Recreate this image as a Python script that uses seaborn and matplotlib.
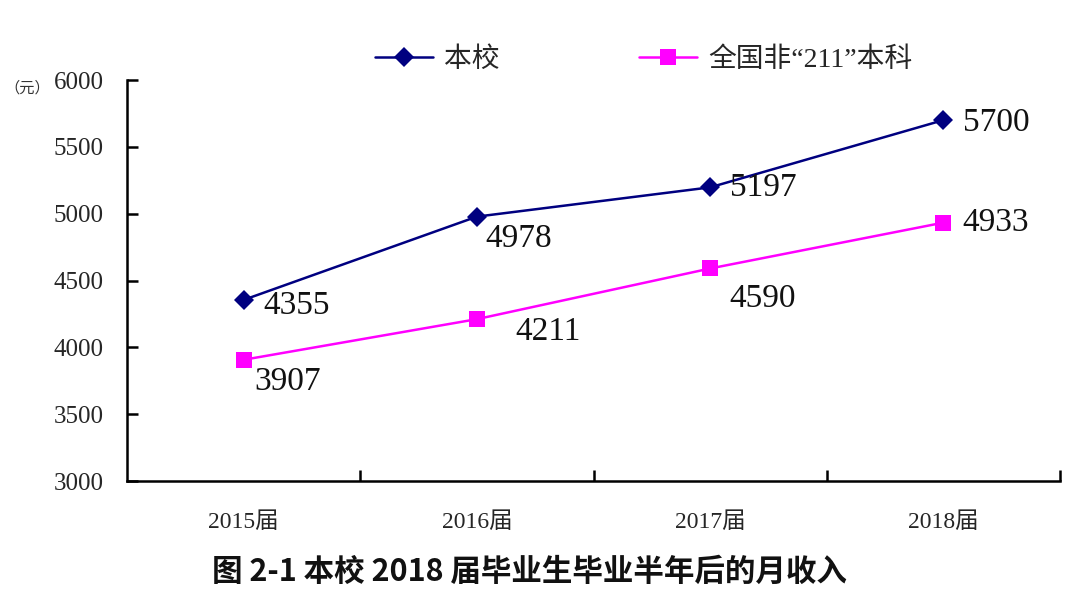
import pandas as pd
import matplotlib.pyplot as plt
import seaborn as sns

years = ['2015届', '2016届', '2017届', '2018届']
school = [4355, 4978, 5197, 5700]
national = [3907, 4211, 4590, 4933]
series_names = ['本校', '全国非“211”本科']
yticks = [3000, 3500, 4000, 4500, 5000, 5500, 6000]

sns.set_style('white')
plt.rcParams['font.family'] = ['Liberation Serif', 'Noto Sans CJK SC', 'DejaVu Sans']

df = pd.DataFrame({
    'x': list(range(len(years))) * 2,
    'value': school + national,
    'series': [series_names[0]] * len(years) + [series_names[1]] * len(years),
})

fig = plt.figure(figsize=(10.8, 6.03), dpi=100)
ax = fig.add_axes([0.1176, 0.2023, 0.8639, 0.665])

sns.lineplot(data=df, x='x', y='value', hue='series', style='series',
             palette=['#000080', '#FF00FF'], markers=['D', 's'], dashes=False,
             markersize=10, linewidth=1.8, markeredgewidth=0, ax=ax, legend=False)
# square marker a bit bigger
ax.lines[1].set_markersize(12)

ax.set_xlim(-0.5, 3.5)
ax.set_ylim(3000, 6000)
ax.set_yticks(yticks)
ax.set_yticklabels([str(v) for v in yticks], fontsize=18)
ax.set_xticks([0.5, 1.5, 2.5, 3.5])
ax.set_xticklabels([])
ax.set_xticks(range(len(years)), minor=True)
ax.set_xticklabels(years, minor=True, fontsize=17)
ax.tick_params(axis='x', which='minor', bottom=False, length=0, pad=22)
ax.tick_params(axis='both', which='major', direction='in', length=8, width=1.8,
               color='black', bottom=True, left=True)
ax.tick_params(axis='y', pad=17)
ax.set_xlabel('')
ax.set_ylabel('')
for s in ['top', 'right']:
    ax.spines[s].set_visible(False)
for s in ['left', 'bottom']:
    ax.spines[s].set_linewidth(1.8)
    ax.spines[s].set_color('black')

# data labels (offsets in points)
school_off = [(14, -4), (6, -16), (14, 0), (14, -2)]
national_off = [(8, -16), (28, -9), (14, -22), (14, 0)]
for i, v in enumerate(school):
    ax.annotate(str(v), (i, v), xytext=school_off[i], textcoords='offset points',
                fontsize=24, va='center', ha='left', color='#111111')
for i, v in enumerate(national):
    ax.annotate(str(v), (i, v), xytext=national_off[i], textcoords='offset points',
                fontsize=24, va='center', ha='left', color='#111111')

fig.text(0.004, 0.853, '（元）', fontsize=11, color='#333333', va='center')

handles = [plt.Line2D([], [], color='#000080', marker='D', markersize=10, lw=1.8, markeredgewidth=0),
           plt.Line2D([], [], color='#FF00FF', marker='s', markersize=12, lw=1.8, markeredgewidth=0)]
fig.legend(handles, series_names, loc='center', bbox_to_anchor=(0.596, 0.9), ncol=2,
           frameon=False, fontsize=20, handlelength=2.1, handletextpad=0.4, columnspacing=5.0)

fig.text(0.49, 0.052, '图 2-1 本校 2018 届毕业生毕业半年后的月收入', fontsize=22,
         fontweight='bold', ha='center', va='center', color='#111111',
         family=['Noto Sans CJK SC', 'DejaVu Sans'])

fig.savefig('out.png', dpi=100)
